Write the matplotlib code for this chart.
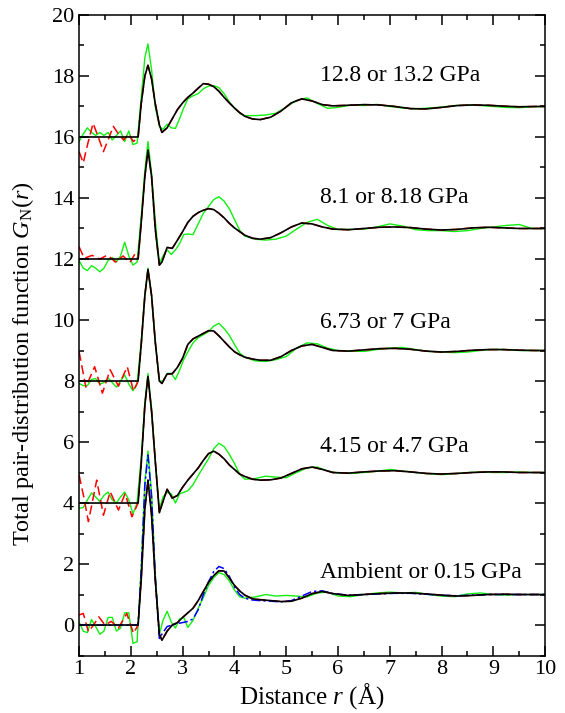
import numpy as np
import matplotlib.pyplot as plt
from matplotlib.ticker import MultipleLocator

plt.rcParams['font.family'] = ['Liberation Serif', 'DejaVu Serif']
plt.rcParams['mathtext.fontset'] = 'custom'
plt.rcParams['mathtext.rm'] = 'Liberation Serif'
plt.rcParams['mathtext.it'] = 'Liberation Serif:italic'

# vertical offsets of the five pressure sets
offsets = [0, 4, 8, 12, 16]
labels = ['Ambient or 0.15 GPa', '4.15 or 4.7 GPa', '6.73 or 7 GPa',
          '8.1 or 8.18 GPa', '12.8 or 13.2 GPa']
label_y = [1.72, 5.85, 9.92, 14.03, 18.0]

# fitted G_N(r) (black), zero below the nearest-neighbour cut-off
r_fit = [1.0, 2.14, 2.2, 2.27, 2.33, 2.4, 2.47, 2.55, 2.6, 2.7,
         2.8, 2.9, 3.0, 3.1, 3.2, 3.3, 3.4, 3.5, 3.6, 3.7,
         3.8, 3.9, 4.0, 4.1, 4.2, 4.35, 4.5, 4.7, 4.9, 5.1,
         5.3, 5.5, 5.7, 5.9, 6.2, 6.5, 6.8, 7.1, 7.4, 7.7,
         8.0, 8.3, 8.6, 8.9, 9.2, 9.5, 9.8, 10.0]

fit_ambient = [0, 0, 1.5, 3.8, 4.75, 3.6, 1.5, -0.3, -0.5, -0.2,
               0.0, 0.08, 0.25, 0.4, 0.55, 0.8, 1.1, 1.4, 1.62, 1.78,
               1.77, 1.55, 1.3, 1.12, 0.98, 0.86, 0.83, 0.8, 0.77, 0.78,
               0.88, 1.03, 1.1, 1.03, 0.97, 1.0, 1.03, 1.05, 1.05, 1.02,
               0.98, 0.95, 0.97, 1.0, 1.01, 1.0, 1.0, 1.0]
fit_415 = [0, 0, 1.3, 3.2, 4.15, 3.0, 1.4, -0.32, -0.05, 0.45,
           0.16, 0.25, 0.52, 0.75, 0.95, 1.15, 1.4, 1.62, 1.7, 1.6,
           1.45, 1.25, 1.1, 0.95, 0.87, 0.78, 0.75, 0.76, 0.82, 0.97,
           1.12, 1.18, 1.1, 1.0, 0.98, 1.02, 1.05, 1.06, 1.02, 0.97,
           0.95, 0.97, 1.0, 1.02, 1.02, 1.0, 1.0, 1.0]
fit_673 = [0, 0, 1.2, 2.8, 3.66, 2.8, 1.3, 0.0, -0.08, 0.23,
           0.24, 0.45, 0.75, 1.2, 1.38, 1.47, 1.56, 1.65, 1.64, 1.48,
           1.3, 1.12, 0.96, 0.86, 0.78, 0.72, 0.68, 0.68, 0.8, 1.0,
           1.15, 1.2, 1.1, 1.0, 0.98, 1.02, 1.06, 1.07, 1.04, 0.98,
           0.95, 0.97, 1.01, 1.03, 1.03, 1.01, 1.0, 1.0]
fit_81 = [0, 0, 1.2, 2.7, 3.57, 2.7, 1.0, -0.2, -0.1, 0.38,
          0.35, 0.62, 0.9, 1.2, 1.4, 1.52, 1.6, 1.65, 1.62, 1.5,
          1.35, 1.17, 1.02, 0.9, 0.78, 0.68, 0.65, 0.7, 0.86, 1.05,
          1.18, 1.15, 1.05, 0.98, 0.96, 1.0, 1.04, 1.05, 1.03, 0.98,
          0.95, 0.97, 1.02, 1.04, 1.02, 1.0, 1.0, 1.0]
fit_128 = [0, 0, 1.1, 2.0, 2.35, 1.9, 1.1, 0.4, 0.15, 0.3,
           0.6, 0.9, 1.12, 1.3, 1.44, 1.6, 1.75, 1.73, 1.65, 1.5,
           1.3, 1.12, 0.95, 0.8, 0.68, 0.59, 0.57, 0.65, 0.85, 1.12,
           1.25, 1.18, 1.06, 1.02, 1.04, 1.06, 1.05, 1.0, 0.93, 0.92,
           0.97, 1.03, 1.05, 1.04, 1.01, 0.99, 1.0, 1.0]

# second ambient model (blue dash-dot), same grid
blue_ambient = [0, 0, 1.8, 4.6, 5.57, 4.2, 1.6, -0.44, -0.3, -0.05,
                0.0, 0.05, 0.08, 0.12, 0.2, 0.5, 1.0, 1.42, 1.75, 1.92,
                1.85, 1.6, 1.25, 1.0, 0.88, 0.82, 0.8, 0.78, 0.76, 0.8,
                0.95, 1.1, 1.12, 1.03, 0.98, 1.0, 1.02, 1.04, 1.04, 1.01,
                0.97, 0.96, 0.98, 1.0, 1.0, 1.0, 1.0, 1.0]

# Fourier-transform ripples below the cut-off (red dashed); above it the
# red curve coincides with the fit
red_r_ambient = [1.0, 1.08, 1.18, 1.28, 1.38, 1.5, 1.62, 1.76, 1.92, 2.05, 2.14]
red_ambient = [0.33, 0.38, -0.22, 0.0, 0.27, 0.0, 0.12, -0.1, 0.38, -0.27, 0.0]
red_r_415 = [1.0, 1.09, 1.18, 1.34, 1.47, 1.6, 1.76, 1.89, 2.02, 2.14]
red_415 = [0.92, 0.2, -0.61, 0.75, -0.4, 0.37, -0.23, 0.31, -0.45, 0.0]
red_r_673 = [1.0, 1.13, 1.3, 1.45, 1.6, 1.76, 1.93, 2.05, 2.14]
red_673 = [0.96, -0.2, 0.47, -0.4, 0.37, -0.17, 0.47, -0.33, 0.0]
red_r_81 = [1.0, 1.1, 1.25, 1.4, 1.55, 1.7, 1.85, 1.98, 2.08, 2.14]
red_81 = [0.4, 0.02, 0.12, 0.0, 0.13, -0.1, 0.1, -0.12, 0.17, 0.0]
red_r_128 = [1.0, 1.08, 1.17, 1.27, 1.37, 1.47, 1.57, 1.66, 1.76, 1.86, 1.95, 2.05, 2.14]
red_128 = [-0.48, -0.85, -0.2, 0.45, 0.0, -0.48, -0.05, 0.35, 0.1, -0.1, 0.1, -0.15, 0.0]

# other measurement (green)
r_green = [1.0, 1.08, 1.16, 1.24, 1.32, 1.4, 1.48, 1.56, 1.64, 1.72, 1.8, 1.88, 1.96, 2.04, 2.12,
           2.2, 2.27, 2.33, 2.4, 2.47, 2.55, 2.62, 2.7, 2.78, 2.86, 2.94, 3.02, 3.1, 3.2, 3.3,
           3.4, 3.5, 3.6, 3.7, 3.8, 3.9, 4.0, 4.1,
           4.2, 4.4, 4.6, 4.8, 5.0, 5.2, 5.4, 5.6, 5.8, 6.0, 6.25, 6.5, 6.75, 7.0, 7.25, 7.5,
           7.75, 8.0, 8.25, 8.5, 8.75, 9.0, 9.25, 9.5, 9.75, 10.0]
green_ambient = [0.1, -0.2, -0.25, 0.18, -0.05, -0.3, -0.2, 0.25, 0.25, -0.2, -0.1, 0.4, 0.4, -0.6, -0.55,
                 1.9, 4.7, 5.71, 4.3, 1.7, -0.3, 0.15, 0.45, 0.1, -0.1, 0.2, 0.25, -0.08, 0.15, 0.55,
                 0.9, 1.3, 1.55, 1.72, 1.65, 1.45, 1.15, 0.93,
                 0.88, 0.92, 1.0, 0.95, 0.97, 0.95, 0.92, 1.05, 1.08, 0.95, 0.93, 1.0, 1.05, 1.08, 1.05, 1.07,
                 1.0, 0.95, 0.93, 1.02, 1.05, 1.0, 0.98, 1.0, 1.0, 1.0]
green_415 = [-0.17, -0.15, 0.1, 0.33, 0.2, 0.05, 0.25, 0.36, 0.1, 0.0, 0.2, 0.36, 0.1, -0.35, 0.0,
             1.5, 3.3, 4.25, 3.1, 1.4, -0.2, 0.2, 0.35, 0.3, 0.0, 0.3, 0.35, 0.4, 0.6, 0.9,
             1.18, 1.45, 1.78, 1.96, 1.85, 1.6, 1.3, 0.95,
             0.78, 0.8, 0.88, 0.85, 0.83, 1.0, 1.15, 1.18, 1.05, 0.98, 0.97, 1.0, 1.04, 1.1, 1.05, 1.0,
             0.96, 0.93, 0.96, 1.0, 1.02, 1.0, 1.0, 1.02, 1.0, 1.0]
green_673 = [-0.08, -0.15, -0.15, 0.05, 0.08, -0.1, -0.05, 0.1, -0.05, -0.2, 0.0, 0.2, -0.1, -0.32, -0.1,
             1.3, 2.85, 3.7, 2.8, 1.3, 0.0, 0.0, 0.25, 0.25, 0.05, 0.35, 0.7, 0.95, 1.25, 1.42,
             1.52, 1.62, 1.8, 1.89, 1.72, 1.5, 1.2, 0.92,
             0.78, 0.66, 0.64, 0.7, 0.8, 1.08, 1.25, 1.22, 1.08, 1.0, 0.98, 0.97, 1.03, 1.08, 1.1, 1.03,
             0.97, 0.95, 0.93, 0.95, 1.0, 1.04, 1.03, 1.0, 1.0, 1.0]
green_81 = [-0.05, -0.3, -0.38, -0.22, -0.3, -0.42, -0.3, -0.05, 0.05, -0.1, 0.1, 0.55, 0.1, -0.2, -0.1,
            1.4, 2.9, 3.85, 2.8, 1.3, -0.15, 0.1, 0.3, 0.15, 0.3, 0.5, 0.8, 0.82, 0.8, 1.15,
            1.5, 1.72, 1.95, 2.04, 1.9, 1.65, 1.3, 0.95,
            0.75, 0.65, 0.62, 0.65, 0.75, 0.98, 1.2, 1.3, 1.1, 0.97, 0.97, 0.98, 1.05, 1.15, 1.08, 0.96,
            0.93, 0.93, 0.9, 0.93, 1.0, 1.05, 1.1, 1.13, 1.0, 1.0]
green_128 = [-0.15, 0.1, 0.3, 0.15, 0.05, 0.15, 0.05, 0.15, -0.1, 0.05, 0.2, -0.15, 0.2, -0.25, -0.2,
             1.3, 2.6, 3.05, 2.2, 1.0, 0.35, 0.25, 0.42, 0.3, 0.28, 0.6, 0.95, 1.25, 1.35, 1.42,
             1.58, 1.67, 1.68, 1.62, 1.42, 1.15, 0.95, 0.78,
             0.7, 0.7, 0.72, 0.78, 0.98, 1.2, 1.28, 1.1, 0.94, 0.97, 1.05, 1.03, 1.07, 1.0, 0.95, 0.92,
             0.95, 0.98, 1.03, 1.05, 1.03, 1.0, 0.97, 0.96, 0.99, 1.0]

fits = [fit_ambient, fit_415, fit_673, fit_81, fit_128]
reds_r = [red_r_ambient, red_r_415, red_r_673, red_r_81, red_r_128]
reds = [red_ambient, red_415, red_673, red_81, red_128]
greens = [green_ambient, green_415, green_673, green_81, green_128]

fig = plt.figure(figsize=(5.65, 7.13), dpi=100)
ax = fig.add_axes([0.14, 0.0806, 0.8248, 0.8984])

rf = np.array(r_fit)
above = rf > 2.14
for off, fit, rr, red, grn, lab, ly in zip(offsets, fits, reds_r, reds, greens, labels, label_y):
    fit = np.array(fit)
    ax.plot(r_green, np.array(grn) + off, color='#10f010', lw=1.0, zorder=1)
    red_r = np.concatenate([rr, rf[above]])
    red_g = np.concatenate([red, fit[above]])
    ax.plot(red_r, red_g + off, color='red', lw=1.1, dashes=(6, 3), zorder=2)
    if off == 0:
        ax.plot(r_fit, np.array(blue_ambient) + off, color='blue', lw=1.1,
                dashes=(6, 2, 1.5, 2), zorder=3)
    ax.plot(r_fit, fit + off, color='black', lw=1.2, zorder=4)
    ax.text(5.65, ly, lab, fontsize=17, va='center', ha='left')

ax.set_xlim(1, 10)
ax.set_ylim(-1, 20)
ax.xaxis.set_major_locator(MultipleLocator(1))
ax.xaxis.set_minor_locator(MultipleLocator(0.5))
ax.yaxis.set_major_locator(MultipleLocator(2))
ax.yaxis.set_minor_locator(MultipleLocator(1))
ax.tick_params(which='both', direction='in', top=True, right=True, width=1.1, labelsize=16)
ax.tick_params(which='major', length=7)
ax.tick_params(which='minor', length=3.5)
for s in ax.spines.values():
    s.set_linewidth(1.1)

ax.set_xlabel('Distance $r$ (Å)', fontsize=18, labelpad=1)
ax.set_ylabel('Total pair-distribution function $G_\\mathrm{N}(r)$', fontsize=17.5)
ax.yaxis.set_label_coords(-0.092, 0.455)

fig.savefig('out.png', dpi=100)
